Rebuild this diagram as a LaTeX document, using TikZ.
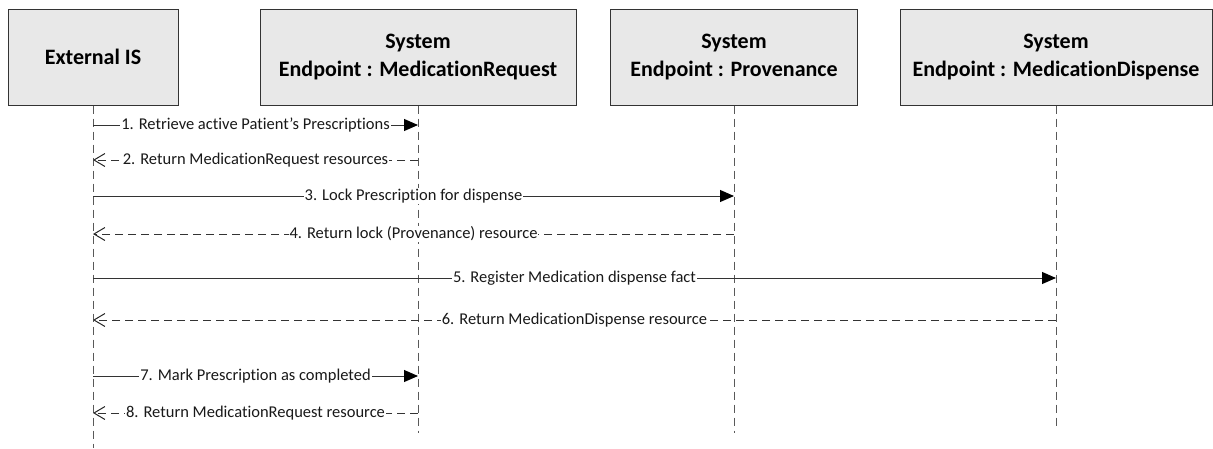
\documentclass[tikz,border=0pt]{standalone}
\usepackage{fontspec}
\setmainfont{Carlito}[Ligatures=NoCommon]
\usetikzlibrary{arrows.meta}
\begin{document}
\begin{tikzpicture}[x=1pt,y=-1pt,
  actor/.style={draw=black!80,fill=black!9,line width=1pt,minimum height=96pt,align=center,
    font=\fontsize{22}{28}\selectfont\bfseries,inner sep=0pt},
  life/.style={draw=black!65,line width=1pt,dash pattern=on 8pt off 5pt},
  call/.style={draw=black!80,line width=1pt,-{Triangle[length=14pt,width=12pt,color=black]}},
  ret/.style={draw=black!80,line width=1pt,dash pattern=on 8pt off 5pt,-{Straight Barb[length=11pt,width=13pt,line width=1pt,color=black!85]}},
  lbl/.style={fill=white,inner sep=1pt,font=\fontsize{16.5}{18}\selectfont,text=black!90}]
\useasboundingbox (0,0) rectangle (1213,448);
\node[actor,minimum width=170pt] (ext) at (93,57) {External IS};
\node[actor,minimum width=316pt] (mr) at (418,57) {System\\Endpoint : MedicationRequest};
\node[actor,minimum width=247pt] (pv) at (734,57) {System\\Endpoint : Provenance};
\node[actor,minimum width=312pt] (md) at (1056,57) {System\\Endpoint : MedicationDispense};
\coordinate (extE) at (93,448);
\coordinate (mrE) at (418,433);
\coordinate (pvE) at (734,433);
\coordinate (mdE) at (1056,426);
\draw[life] (ext.south) -- (extE);
\draw[life] (mr.south) -- (mrE);
\draw[life] (pv.south) -- (pvE);
\draw[life] (md.south) -- (mdE);
% messages
\foreach \n/\y in {1/125,2/160,3/196,4/234,5/278,6/320,7/376,8/413}{
  \coordinate (e\n) at (93,\y);
  \coordinate (r\n) at (418,\y);
  \coordinate (p\n) at (734,\y);
  \coordinate (d\n) at (1056,\y);
}
\draw[call] (e1) -- node[lbl] {1. Retrieve active Patient's Prescriptions} (r1);
\draw[ret] (r2) -- node[lbl] {2. Return MedicationRequest resources} (e2);
\draw[call] (e3) -- node[lbl] {3. Lock Prescription for dispense} (p3);
\draw[ret] (p4) -- node[lbl] {4. Return lock (Provenance) resource} (e4);
\draw[call] (e5) -- node[lbl] {5. Register Medication dispense fact} (d5);
\draw[ret] (d6) -- node[lbl] {6. Return MedicationDispense resource} (e6);
\draw[call] (e7) -- node[lbl] {7. Mark Prescription as completed} (r7);
\draw[ret] (r8) -- node[lbl] {8. Return MedicationRequest resource} (e8);
\end{tikzpicture}
\end{document}
